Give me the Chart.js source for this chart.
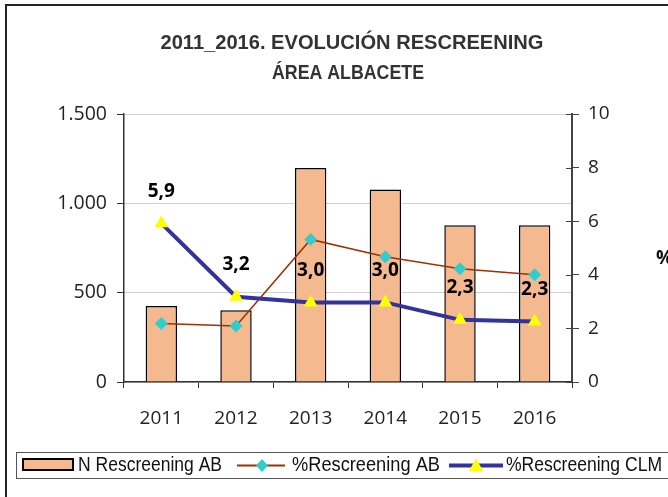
<!DOCTYPE html>
<html>
<head>
<meta charset="utf-8">
<script src="https://cdn.jsdelivr.net/npm/chart.js@4.4.0/dist/chart.umd.min.js"></script>
<style>
    html, body { margin: 0; padding: 0; background: #fff; }
    canvas { display: block; }
</style>
</head>
<body>
<canvas id="myChart" width="668" height="497"></canvas>
<script>
// data
var years = ['2011', '2012', '2013', '2014', '2015', '2016'];
var nRescreeningAB = [425, 402, 1198, 1077, 877, 877];
var pctRescreeningAB = [2.18, 2.09, 5.32, 4.67, 4.23, 4.0];
var pctRescreeningCLM = [5.92, 3.18, 2.97, 2.97, 2.32, 2.26];
var leftTicks = [0, 500, 1000, 1500];
var rightTicks = [0, 2, 4, 6, 8, 10];

var titleLines = ['2011_2016. EVOLUCIÓN RESCREENING', 'ÁREA ALBACETE'];
var legendLabels = ['N Rescreening AB', '%Rescreening AB', '%Rescreening CLM'];

var barColor = '#F4B98F';
var abLine = '#993300';
var abPoint = '#33CCCC';
var clmLine = '#333399';
var clmPoint = '#FFFF00';

function thousands(v) {
    return String(v).replace(/\B(?=(\d{3})+(?!\d))/g, '.');
}

// frame, title, legend, "%" label
var decorPlugin = {
    id: 'decor',
    beforeDraw: function (chart) {
        var c = chart.ctx;
        c.save();
        c.fillStyle = '#fff';
        c.fillRect(0, 0, chart.width, chart.height);
        c.strokeStyle = '#222';
        c.lineWidth = 2;
        c.beginPath();
        c.moveTo(6, chart.height);
        c.lineTo(6, 5);
        c.lineTo(chart.width, 5);
        c.stroke();

        c.fillStyle = '#333';
        c.textAlign = 'center';
        c.textBaseline = 'middle';
        c.font = 'bold 21px "Liberation Sans", Arial, sans-serif';
        c.fillText(titleLines[0], 352, 43, 383);
        c.fillText(titleLines[1], 348, 73, 152);
        c.restore();
    },
    afterDraw: function (chart) {
        var c = chart.ctx;
        c.save();
        // legend box
        c.strokeStyle = '#555';
        c.lineWidth = 1;
        c.strokeRect(16.5, 452.5, 700, 26);

        // bar swatch
        c.fillStyle = barColor;
        c.fillRect(23, 459, 50, 11);
        c.strokeStyle = '#000';
        c.lineWidth = 2;
        c.strokeRect(23, 459, 50, 11);

        // AB line swatch
        c.strokeStyle = abLine;
        c.lineWidth = 2;
        c.beginPath();
        c.moveTo(237, 465.5);
        c.lineTo(285, 465.5);
        c.stroke();
        c.fillStyle = abPoint;
        c.beginPath();
        c.moveTo(262, 459);
        c.lineTo(268, 465.5);
        c.lineTo(262, 472);
        c.lineTo(256, 465.5);
        c.closePath();
        c.fill();

        // CLM line swatch
        c.strokeStyle = clmLine;
        c.lineWidth = 4;
        c.beginPath();
        c.moveTo(449, 465.5);
        c.lineTo(503, 465.5);
        c.stroke();
        c.fillStyle = clmPoint;
        c.beginPath();
        c.moveTo(476, 458);
        c.lineTo(483, 471);
        c.lineTo(469, 471);
        c.closePath();
        c.fill();

        c.fillStyle = '#111';
        c.textAlign = 'left';
        c.textBaseline = 'middle';
        c.font = '20px "Liberation Sans", Arial, sans-serif';
        c.fillText(legendLabels[0], 78, 465, 144);
        c.fillText(legendLabels[1], 292, 465, 148);
        c.fillText(legendLabels[2], 506, 465, 156);

        // right axis title, cut by the picture edge
        c.font = 'bold 19px "Open Sans", sans-serif';
        c.fillStyle = '#111';
        c.fillText('%', 656, 259);

        // tick marks of the right axis also reach into the plot
        var y1 = chart.scales.y1;
        c.strokeStyle = '#444';
        c.lineWidth = 1;
        y1.ticks.forEach(function (t) {
            var py = Math.round(y1.getPixelForValue(t.value)) + 0.5;
            c.beginPath();
            c.moveTo(y1.left - 6, py);
            c.lineTo(y1.left, py);
            c.stroke();
        });
        c.restore();
    },
    // value labels above the CLM points
    afterDatasetsDraw: function (chart) {
        var c = chart.ctx;
        var meta = chart.getDatasetMeta(2);
        c.save();
        c.font = 'bold 19px "Open Sans", sans-serif';
        c.fillStyle = '#000';
        c.textAlign = 'center';
        c.textBaseline = 'middle';
        meta.data.forEach(function (pt, i) {
            c.fillText(pctRescreeningCLM[i].toFixed(1).replace('.', ','), pt.x, pt.y - 32);
        });
        c.restore();
    }
};

var ctx = document.getElementById('myChart').getContext('2d');
var myChart = new Chart(ctx, {
    type: 'bar',
    data: {
        labels: years,
        datasets: [{
            type: 'bar',
            label: legendLabels[0],
            data: nRescreeningAB,
            yAxisID: 'y',
            backgroundColor: barColor,
            borderColor: '#000',
            borderWidth: 1.5,
            barPercentage: 0.42,
            categoryPercentage: 1,
            order: 3
        }, {
            type: 'line',
            label: legendLabels[1],
            data: pctRescreeningAB,
            yAxisID: 'y1',
            borderColor: abLine,
            borderWidth: 1.5,
            pointStyle: 'rectRot',
            pointRadius: 6.5,
            pointBackgroundColor: abPoint,
            pointBorderColor: abPoint,
            pointBorderWidth: 0,
            tension: 0,
            order: 2
        }, {
            type: 'line',
            label: legendLabels[2],
            data: pctRescreeningCLM,
            yAxisID: 'y1',
            borderColor: clmLine,
            borderWidth: 4,
            pointStyle: 'triangle',
            pointRadius: 8,
            pointBackgroundColor: clmPoint,
            pointBorderColor: clmPoint,
            pointBorderWidth: 0,
            tension: 0,
            order: 1
        }]
    },
    options: {
        responsive: false,
        animation: false,
        layout: { padding: { top: 114, left: 0, right: 0, bottom: 0 } },
        plugins: {
            legend: { display: false },
            title: { display: false },
            tooltip: { enabled: false }
        },
        scales: {
            x: {
                grid: { drawOnChartArea: false, tickLength: 6, color: '#333', offset: true },
                border: { color: '#333', width: 1.5 },
                ticks: {
                    font: { family: '"Open Sans", sans-serif', size: 19 },
                    color: '#222',
                    padding: 19,
                    maxRotation: 0
                },
                afterFit: function (s) { s.height = 115; }
            },
            y: {
                position: 'left',
                min: 0,
                max: 1500,
                afterBuildTicks: function (s) {
                    s.ticks = leftTicks.map(function (v) { return { value: v }; });
                },
                grid: { color: '#d0d0d0', tickColor: '#333', tickLength: 7 },
                border: { color: '#333', width: 1.5 },
                ticks: {
                    font: { family: '"Open Sans", sans-serif', size: 19.5 },
                    color: '#222',
                    padding: 10,
                    callback: function (v) { return thousands(v); }
                },
                afterFit: function (s) { s.width = 124; }
            },
            y1: {
                position: 'right',
                min: 0,
                max: 10,
                afterBuildTicks: function (s) {
                    s.ticks = rightTicks.map(function (v) { return { value: v }; });
                },
                grid: { drawOnChartArea: false, tickColor: '#444', tickLength: 7 },
                border: { color: '#444', width: 2 },
                ticks: {
                    font: { family: '"Open Sans", sans-serif', size: 19 },
                    color: '#222',
                    padding: 9
                },
                afterFit: function (s) { s.width = 96; }
            }
        }
    },
    plugins: [decorPlugin]
});
</script>
</body>
</html>
